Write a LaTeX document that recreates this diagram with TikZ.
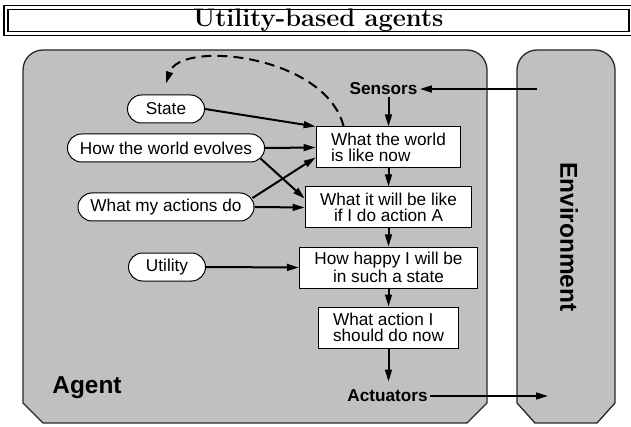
\documentclass[tikz,border=0pt]{standalone}
\usepackage{fontspec}
\setsansfont{Liberation Sans}
\usetikzlibrary{positioning,arrows.meta}
\definecolor{shellColor}{RGB}{192,192,192}
\definecolor{edgeColor}{RGB}{40,40,40}

\begin{document}
\begin{tikzpicture}[x=0.5pt,y=-0.5pt]
  	\tikzstyle{heading} = [draw,double,line width=0.75pt,double distance=1.25pt,minimum width=312.6pt,minimum height=13.1pt,inner sep=0pt,font=\fontsize{12.7}{15}\selectfont\bfseries]
  	\tikzstyle{shell} = [draw=edgeColor,line width=0.65pt,fill=shellColor]
  	\tikzstyle{pill} = [draw,fill=white,line width=0.5pt,rounded corners=7pt,minimum height=14pt,inner xsep=6.25pt,inner ysep=0pt,font=\fontsize{8.6}{10}\sffamily]
  	\tikzstyle{stage} = [draw,fill=white,line width=0.5pt,minimum height=20.5pt,inner xsep=7.5pt,inner ysep=1pt,font=\fontsize{8.6}{8}\sffamily]
  	\tikzstyle{port} = [inner sep=1pt,font=\fontsize{8.6}{10}\sffamily\bfseries]
  	\tikzstyle{big} = [font=\fontsize{12.2}{14}\sffamily\bfseries]
  	\tikzstyle{wire} = [->,line width=1pt]
  	\tikzset{>={Triangle[length=6pt,width=3.4pt]}}

    \useasboundingbox (0,0) rectangle (631,427);

    \node [heading] (title) at (318.4,20.6) {Utility-based agents};

    \draw [shell] (23,403) -- (23,70) to[out=90,in=180] (43,50) -- (467,50) to[out=0,in=90] (487,70) -- (487,403) -- (467,423) -- (43,423) -- cycle;
    \draw [shell] (517,403) -- (517,70) to[out=90,in=180] (537,50) -- (595,50) to[out=0,in=90] (615,70) -- (615,403) -- (597,423) -- (535,423) -- cycle;

    \node [big] (agent) at (87,388) {Agent};
    \node [big, rotate=-90] (envname) at (569,237) {Environment};

    \node [port] (sensors) at (383.5,89) {Sensors};
    \node [stage, align=left] (world) at (388.5,147.5) {What the world\\is like now};
    \node [stage, align=center, below=9pt of world] (future) {What it will be like\\if I do action A};
    \node [stage, align=center, below=9pt of future] (happy) {How happy I will be\\in such a state};
    \node [stage, align=left, below=9pt of happy] (action) {What action I\\should do now};
    \node [port] (actuators) at (387.5,396) {Actuators};

    \node [pill, minimum width=38.5pt] (state) at (166,109) {State};
    \node [pill] (evolve) at (166,148) {How the world evolves};
    \node [pill] (effect) at (166,207) {What my actions do};
    \node [pill, minimum width=38.5pt] (utility) at (167,267) {Utility};

    \coordinate (envin) at (537,89);
    \coordinate (envout) at (548,396);

    \draw [wire] (envin) -- (sensors);
    \draw [wire] (world.north |- sensors.south) -- (world.north);
    \draw [wire] (world) -- (future);
    \draw [wire] (future) -- (happy);
    \draw [wire] (happy) -- (action);
    \draw [wire] (action.south) -- ([yshift=3pt]action.south |- actuators.north);
    \draw [wire] (actuators) -- (envout);

    \draw [wire] (state.east) -- (world.north west);
    \draw [wire] (evolve.east) -- (world.west);
    \draw [wire] ([shift={(-2.2pt,-5.3pt)}]evolve.east) -- ([yshift=4.5pt]future.west);
    \draw [wire] ([shift={(-1pt,4.5pt)}]effect.east) -- ([yshift=-5pt]world.west);
    \draw [wire] (effect.east) -- (future.west);
    \draw [wire] (utility.east) -- (happy.west);

    \draw [wire, dash pattern=on 5pt off 3pt] ([xshift=14pt]world.north west) .. controls +(-18,-72) and +(14,-44) .. ([yshift=5.5pt]state.north);

  \end{tikzpicture}
\end{document}
